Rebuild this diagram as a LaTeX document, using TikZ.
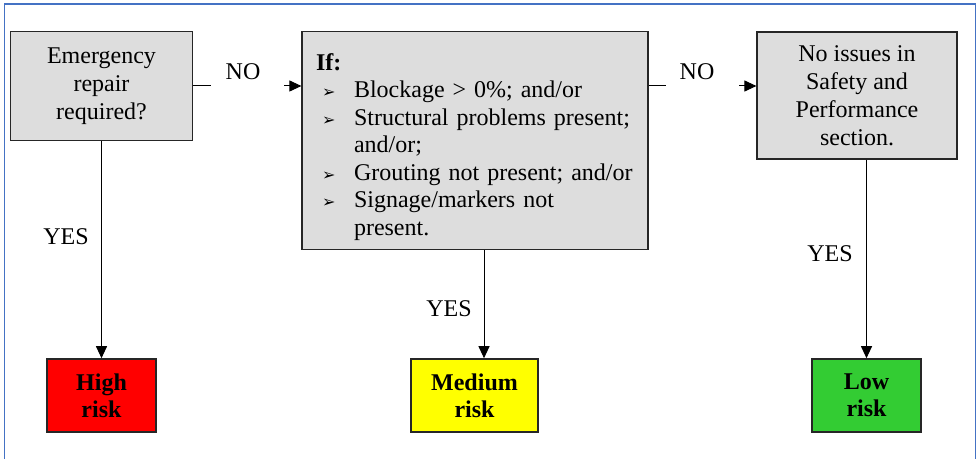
\documentclass[tikz,border=0pt]{standalone}
\usepackage{fontspec}
\setmainfont{Liberation Serif}
\newfontfamily\dejavu{DejaVu Sans}
\usetikzlibrary{arrows.meta}
\definecolor{boxgrey}{RGB}{221,221,221}
\definecolor{framblue}{RGB}{68,114,196}
\definecolor{riskred}{RGB}{255,0,0}
\definecolor{riskyellow}{RGB}{255,255,0}
\definecolor{riskgreen}{RGB}{51,204,51}
\newcommand{\arrowbul}{\makebox[19pt][l]{\hspace{3pt}{\dejavu\footnotesize ➢}}}
\newcommand{\contind}{\hspace*{19pt}}

\begin{document}
\begin{tikzpicture}[x=0.5pt,y=-0.5pt,font=\fontsize{12}{14}\selectfont,
  greybox/.style={rectangle,draw=black!85,fill=boxgrey,line width=0.6pt,inner sep=0pt,align=center},
  riskbox/.style={rectangle,draw=black!85,line width=0.8pt,minimum width=54.5pt,minimum height=36.5pt,inner sep=0pt,align=center,font=\fontsize{12}{13.5}\selectfont\bfseries},
  arr/.style={-{Triangle[length=6pt,width=5.5pt]},line width=0.5pt}]
\useasboundingbox (0,0) rectangle (977,459);
\draw[framblue,line width=0.8pt] (4.5,459) -- (4.5,4) -- (975.5,4) -- (975.5,459);

\path (101.5,86) node[greybox,minimum width=91pt,minimum height=54.5pt] (E) {Emergency\\ repair\\ required?};
\path (475,140.5) node[greybox,align=left,text width=159pt,inner xsep=7pt,minimum height=109pt,
  font=\fontsize{12}{13.75}\selectfont] (IF) {\rule{0pt}{15pt}\textbf{If:}\\
  \arrowbul Blockage > 0\%; and/or\\
  \arrowbul Structural problems present;\\
  \contind and/or;\\
  \arrowbul Grouting not present; and/or\\
  \arrowbul Signage/markers not\\
  \contind present.};
\path (857,95.5) node[greybox,minimum width=100pt,minimum height=63.5pt] (NI) {No issues in\\ Safety and\\ Performance\\ section.};

\path (101.5,395.5) node[riskbox,fill=riskred] (H) {High\\ risk};
\path (474.5,395.5) node[riskbox,fill=riskyellow,minimum width=63.5pt] (M) {Medium\\ risk};
\path (866.5,395.5) node[riskbox,fill=riskgreen] (L) {Low\\ risk};

% NO branches
\coordinate (n1a) at (211,86);
\coordinate (n1b) at (284,86);
\draw[line width=0.5pt] (E.east) -- (n1a);
\path (243,72) node (no1) {NO};
\draw[arr] (n1b) -- (n1b -| IF.west);

\coordinate (n2a) at (666,86);
\coordinate (n2b) at (739,86);
\draw[line width=0.5pt] (n2a -| IF.east) -- (n2a);
\path (697,72) node (no2) {NO};
\draw[arr] (n2b) -- (n2b -| NI.west);

% YES branches
\draw[arr] (E.south) -- (H.north);
\path (66,237) node (yes1) {YES};
\draw[arr] ([xshift=4.5pt]IF.south) -- ([xshift=4.75pt]M.north);
\path (449,309) node (yes2) {YES};
\draw[arr] (L.north |- NI.south) -- (L.north);
\path (830,254) node (yes3) {YES};
\end{tikzpicture}
\end{document}
